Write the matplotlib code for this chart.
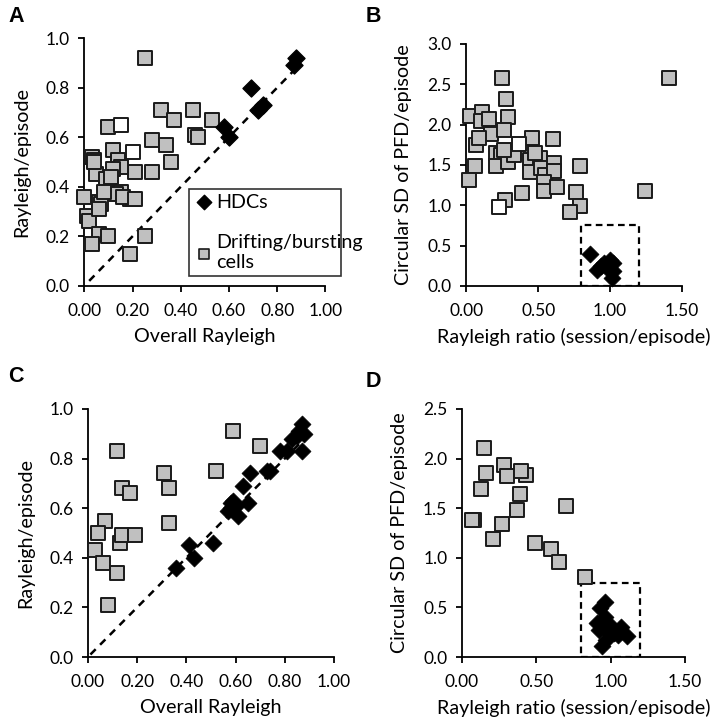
import numpy as np
import matplotlib
matplotlib.use("Agg")
import matplotlib.pyplot as plt
from matplotlib.patches import Rectangle

plt.rcParams['font.family'] = ['Lato', 'DejaVu Sans']

# ---- panel A: overall Rayleigh vs Rayleigh/episode (session 1)
a_gray_x = [0.25, 0.32, 0.45, 0.37, 0.53, 0.46, 0.47, 0.28, 0.34, 0.36, 0.28, 0.21,
            0.12, 0.10, 0.03, 0.04, 0.05, 0.14, 0.15, 0.10, 0.09, 0.15, 0.19, 0.20,
            0.00, 0.06, 0.07, 0.01, 0.02, 0.06, 0.10, 0.03, 0.25, 0.19, 0.12, 0.13,
            0.04, 0.16, 0.06, 0.08, 0.21, 0.11]
a_gray_y = [0.92, 0.71, 0.71, 0.67, 0.67, 0.61, 0.60, 0.59, 0.57, 0.50, 0.46, 0.46,
            0.55, 0.64, 0.52, 0.51, 0.45, 0.51, 0.48, 0.41, 0.43, 0.38, 0.35, 0.35,
            0.36, 0.34, 0.33, 0.28, 0.26, 0.21, 0.20, 0.17, 0.20, 0.13, 0.47, 0.37,
            0.50, 0.36, 0.31, 0.38, 0.35, 0.44]
a_white_x = [0.15, 0.20]
a_white_y = [0.65, 0.54]
a_hdc_x = [0.88, 0.87, 0.69, 0.74, 0.72, 0.58, 0.60]
a_hdc_y = [0.92, 0.89, 0.80, 0.73, 0.71, 0.64, 0.60]

# ---- panel B: Rayleigh ratio vs circular SD of PFD
b_gray_x = [0.25, 0.28, 0.29, 0.03, 0.11, 0.10, 0.16, 0.17, 0.26, 0.07, 0.09, 0.06,
            0.02, 0.46, 0.60, 0.21, 0.24, 0.21, 0.29, 0.44, 0.44, 0.51, 0.52, 0.55,
            0.61, 0.61, 0.54, 0.54, 0.63, 0.79, 0.76, 0.79, 0.72, 0.39, 0.27, 0.48,
            0.33, 0.26, 1.41, 1.24]
b_gray_y = [2.58, 2.32, 2.09, 2.10, 2.15, 2.04, 2.07, 1.88, 1.93, 1.75, 1.83, 1.49,
            1.31, 1.83, 1.82, 1.65, 1.62, 1.49, 1.54, 1.56, 1.41, 1.58, 1.46, 1.38,
            1.52, 1.42, 1.29, 1.17, 1.23, 1.48, 1.16, 0.99, 0.92, 1.15, 1.07, 1.65,
            1.62, 1.68, 2.58, 1.18]
b_white_x = [0.37, 0.23]
b_white_y = [1.76, 0.98]
b_hdc_x = [0.86, 0.91, 0.96, 1.00, 1.02, 1.01, 0.98, 1.02, 0.94]
b_hdc_y = [0.39, 0.20, 0.28, 0.32, 0.19, 0.10, 0.22, 0.28, 0.25]

# ---- panel C
c_gray_x = [0.12, 0.59, 0.70, 0.52, 0.31, 0.33, 0.14, 0.17, 0.33, 0.07, 0.04, 0.13,
            0.14, 0.19, 0.03, 0.06, 0.12, 0.08]
c_gray_y = [0.83, 0.91, 0.85, 0.75, 0.74, 0.68, 0.68, 0.66, 0.54, 0.55, 0.50, 0.46,
            0.49, 0.49, 0.43, 0.38, 0.34, 0.21]
c_hdc_x = [0.36, 0.41, 0.43, 0.51, 0.58, 0.58, 0.61, 0.65, 0.63, 0.66, 0.73, 0.74,
           0.78, 0.81, 0.87, 0.85, 0.86, 0.87, 0.88, 0.83, 0.59, 0.57, 0.60]
c_hdc_y = [0.36, 0.45, 0.40, 0.46, 0.62, 0.60, 0.57, 0.62, 0.69, 0.74, 0.75, 0.75,
           0.83, 0.83, 0.83, 0.89, 0.91, 0.94, 0.90, 0.88, 0.63, 0.59, 0.61]

# ---- panel D
d_gray_x = [0.15, 0.16, 0.13, 0.08, 0.07, 0.28, 0.30, 0.43, 0.40, 0.39, 0.37, 0.27,
            0.21, 0.49, 0.60, 0.65, 0.70, 0.83]
d_gray_y = [2.11, 1.85, 1.69, 1.38, 1.38, 1.94, 1.82, 1.83, 1.87, 1.64, 1.48, 1.34,
            1.19, 1.15, 1.09, 0.96, 1.52, 0.81]
d_hdc_x = [0.96, 0.93, 0.96, 0.91, 0.95, 0.99, 1.02, 1.07, 1.11, 1.05, 0.97, 0.94,
           1.01, 0.92, 0.96]
d_hdc_y = [0.55, 0.49, 0.40, 0.34, 0.30, 0.25, 0.24, 0.30, 0.21, 0.22, 0.17, 0.11,
           0.30, 0.27, 0.35]

GRAY = '#c0c0c0'
EDGE = '#1a1a1a'
LABEL_FS = 14.2
TICK_FS = 12.5


def style_axes(ax, xlim, ylim, xticks, yticks, xfmt, yfmt, xlabel, ylabel):
    ax.set_xlim(*xlim)
    ax.set_ylim(*ylim)
    ax.set_xticks(xticks)
    ax.set_yticks(yticks)
    ax.set_xticklabels([xfmt.format(v) for v in xticks])
    ax.set_yticklabels([yfmt.format(v) for v in yticks])
    for s in ['top', 'right']:
        ax.spines[s].set_visible(False)
    for s in ['left', 'bottom']:
        ax.spines[s].set_linewidth(1.3)
    ax.tick_params(direction='out', length=4.5, width=1.3, labelsize=TICK_FS)
    ax.tick_params(axis='y', pad=6)
    ax.tick_params(axis='x', pad=8)
    ax.set_xlabel(xlabel, fontsize=LABEL_FS, labelpad=6)
    ax.set_ylabel(ylabel, fontsize=LABEL_FS, labelpad=11)


def squares(ax, x, y, color):
    ax.scatter(x, y, s=105, marker='s', facecolor=color, edgecolor=EDGE,
               linewidth=1.4, zorder=3, clip_on=False)


def diamonds(ax, x, y):
    ax.scatter(x, y, s=75, marker='D', facecolor='black', edgecolor='black',
               linewidth=0.5, zorder=4, clip_on=False)


fig = plt.figure(figsize=(7.15, 7.2), dpi=100)

axA = fig.add_axes([0.118, 0.603, 0.337, 0.344])
axB = fig.add_axes([0.652, 0.603, 0.302, 0.336])
axC = fig.add_axes([0.123, 0.0875, 0.344, 0.3445])
axD = fig.add_axes([0.646, 0.0875, 0.312, 0.3445])

# A
axA.plot([0.02, 0.88], [0.02, 0.88], ls=(0, (3, 2.5)), color='black', lw=1.8, zorder=2)
squares(axA, a_gray_x, a_gray_y, GRAY)
squares(axA, a_white_x, a_white_y, 'white')
hA = axA.scatter(a_hdc_x, a_hdc_y, s=75, marker='D', color='black', zorder=4,
                 clip_on=False, label='HDCs')
sA = axA.scatter([], [], s=60, marker='s', facecolor=GRAY, edgecolor=EDGE,
                 linewidth=1.2, label='Drifting/bursting\ncells')
style_axes(axA, (0, 1), (0, 1), np.arange(0, 1.01, 0.2), np.arange(0, 1.01, 0.2),
           '{:.2f}', '{:.1f}', 'Overall Rayleigh', 'Rayleigh/episode')
leg = axA.legend(handles=[hA, sA], loc='lower left',
                 bbox_to_anchor=(0.435, 0.04, 0.628, 0.364), mode='expand',
                 fontsize=LABEL_FS, frameon=True, fancybox=False, borderpad=0.25,
                 labelspacing=1.2, handletextpad=0.1, handlelength=1.0,
                 borderaxespad=0, markerscale=0.85)
leg.get_frame().set_edgecolor('black')
leg.get_frame().set_linewidth(1.2)

# B
axB.add_patch(Rectangle((0.8, 0), 0.4, 0.75, fill=False, ls=(0, (3, 2)),
                        lw=1.6, edgecolor='black', zorder=2))
squares(axB, b_gray_x, b_gray_y, GRAY)
squares(axB, b_white_x, b_white_y, 'white')
diamonds(axB, b_hdc_x, b_hdc_y)
style_axes(axB, (0, 1.5), (0, 3), [0, 0.5, 1.0, 1.5], np.arange(0, 3.01, 0.5),
           '{:.2f}', '{:.1f}', 'Rayleigh ratio (session/episode)',
           'Circular SD of PFD/episode')

# C
axC.plot([0.01, 0.87], [0.01, 0.87], ls=(0, (3, 2.5)), color='black', lw=1.8, zorder=2)
squares(axC, c_gray_x, c_gray_y, GRAY)
diamonds(axC, c_hdc_x, c_hdc_y)
style_axes(axC, (0, 1), (0, 1), np.arange(0, 1.01, 0.2), np.arange(0, 1.01, 0.2),
           '{:.2f}', '{:.1f}', 'Overall Rayleigh', 'Rayleigh/episode')

# D
axD.add_patch(Rectangle((0.8, 0), 0.4, 0.75, fill=False, ls=(0, (3, 2)),
                        lw=1.6, edgecolor='black', zorder=2))
squares(axD, d_gray_x, d_gray_y, GRAY)
diamonds(axD, d_hdc_x, d_hdc_y)
style_axes(axD, (0, 1.5), (0, 2.5), [0, 0.5, 1.0, 1.5], np.arange(0, 2.51, 0.5),
           '{:.2f}', '{:.1f}', 'Rayleigh ratio (session/episode)',
           'Circular SD of PFD/episode')

for lab, (x, y) in zip('ABCD', [(0.012, 0.977), (0.512, 0.977),
                                (0.012, 0.477), (0.512, 0.470)]):
    fig.text(x, y, lab, fontsize=15.5, fontweight='bold',
             family=['Liberation Sans', 'DejaVu Sans'], va='center', ha='left')

fig.savefig('out.png', dpi=100)
